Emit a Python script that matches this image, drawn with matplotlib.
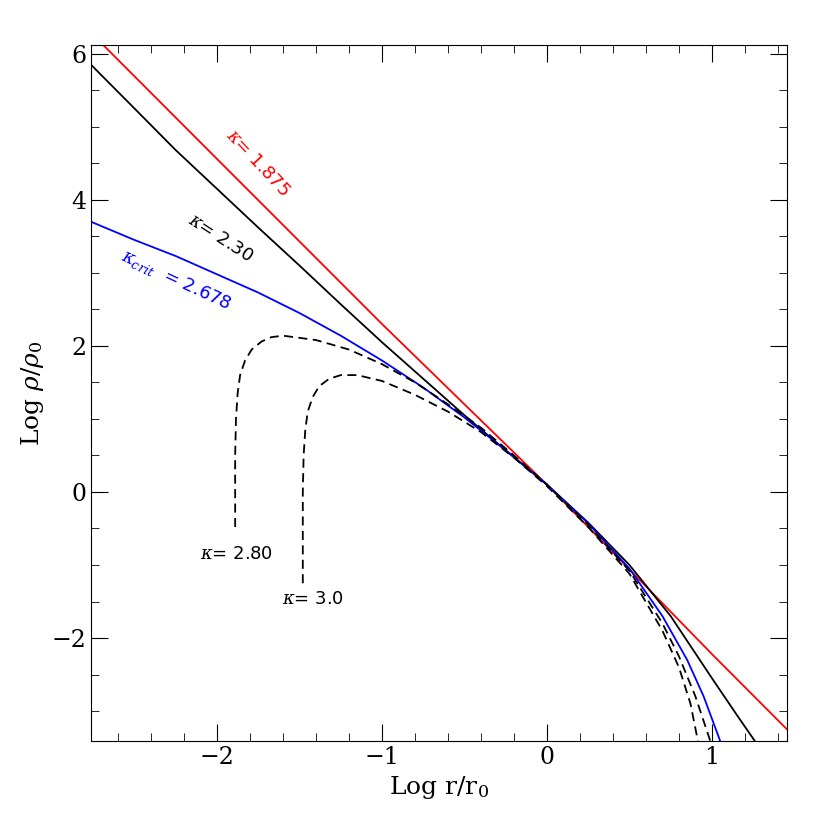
import matplotlib
matplotlib.use("Agg")
import matplotlib.pyplot as plt
from matplotlib.ticker import MultipleLocator

plt.rcParams["mathtext.fontset"] = "dejavuserif"

red_x = [-2.69, -2, -1, 0, 1, 1.455]
red_y = [6.12, 4.56, 2.30, 0.10, -2.22, -3.25]
blk_x = [-2.764, -2.5, -2.25, -2, -1.75, -1.5, -1.25, -1, -0.75, -0.5, -0.25, 0, 0.25, 0.5, 0.75, 1, 1.15, 1.26]
blk_y = [5.85, 5.25, 4.68, 4.15, 3.62, 3.1, 2.57, 2.05, 1.55, 1.05, 0.57, 0.1, -0.42, -1.0, -1.7, -2.55, -3.05, -3.41]
blu_x = [-2.764, -2.5, -2.25, -2, -1.75, -1.5, -1.25, -1, -0.75, -0.5, -0.25, 0, 0.25, 0.5, 0.7, 0.85, 0.95, 1.05]
blu_y = [3.70, 3.45, 3.23, 2.98, 2.73, 2.45, 2.14, 1.8, 1.43, 1.02, 0.57, 0.1, -0.43, -1.05, -1.7, -2.3, -2.8, -3.41]
d28_x = [-1.89, -1.89, -1.885, -1.875, -1.86, -1.83, -1.79, -1.73, -1.67, -1.6, -1.4, -1.2, -1.0, -0.8, -0.6, -0.4, -0.2, 0, 0.25, 0.5, 0.7, 0.8, 0.9, 0.99]
d28_y = [-0.48, 0.5, 1.0, 1.35, 1.6, 1.8, 1.95, 2.06, 2.12, 2.14, 2.08, 1.95, 1.75, 1.5, 1.2, 0.88, 0.5, 0.1, -0.45, -1.08, -1.8, -2.25, -2.8, -3.41]
d30_x = [-1.48, -1.48, -1.475, -1.465, -1.45, -1.42, -1.38, -1.32, -1.25, -1.15, -1.0, -0.8, -0.6, -0.4, -0.2, 0, 0.25, 0.5, 0.7, 0.8, 0.87, 0.915]
d30_y = [-1.25, 0.0, 0.5, 0.85, 1.1, 1.3, 1.45, 1.55, 1.6, 1.6, 1.52, 1.33, 1.1, 0.82, 0.47, 0.08, -0.48, -1.12, -1.9, -2.4, -2.9, -3.41]

fig = plt.figure(figsize=(8.3, 8.3), dpi=100)
ax = fig.add_axes([0.1096, 0.1072, 0.8386, 0.8386])
ax.plot(red_x, red_y, color="red", lw=1.3)
ax.plot(blk_x, blk_y, color="black", lw=1.3)
ax.plot(blu_x, blu_y, color="blue", lw=1.3)
ax.plot(d28_x, d28_y, color="black", lw=1.3, ls=(0, (5, 3)))
ax.plot(d30_x, d30_y, color="black", lw=1.3, ls=(0, (5, 3)))

ax.set_xlim(-2.764, 1.455)
ax.set_ylim(-3.41, 6.12)
ax.xaxis.set_major_locator(MultipleLocator(1))
ax.xaxis.set_minor_locator(MultipleLocator(0.2))
ax.yaxis.set_major_locator(MultipleLocator(2))
ax.yaxis.set_minor_locator(MultipleLocator(0.5))
ax.tick_params(which="both", direction="in", top=True, right=True, labelsize=17)
ax.tick_params(which="major", length=12)
ax.tick_params(which="minor", length=6)
for t in ax.get_xticklabels() + ax.get_yticklabels():
    t.set_family("DejaVu Serif")
ax.set_xlabel(r"Log r/r$_0$", fontsize=18, family="DejaVu Serif")
ax.set_ylabel(r"Log $\rho/\rho_0$", fontsize=18, family="DejaVu Serif")

kw = dict(fontsize=13, ha="center", va="center", family="DejaVu Sans")
ax.text(-1.75, 4.5, r"$\kappa$= 1.875", color="red", rotation=-47, **kw)
ax.text(-1.98, 3.48, r"$\kappa$= 2.30", color="black", rotation=-33, **kw)
ax.text(-2.25, 2.9, r"$\kappa_{crit}$  = 2.678", color="blue", rotation=-25, **kw)
ax.text(-1.88, -0.85, r"$\kappa$= 2.80", color="black", **kw)
ax.text(-1.42, -1.46, r"$\kappa$= 3.0", color="black", **kw)

fig.savefig("out.png", dpi=100)
